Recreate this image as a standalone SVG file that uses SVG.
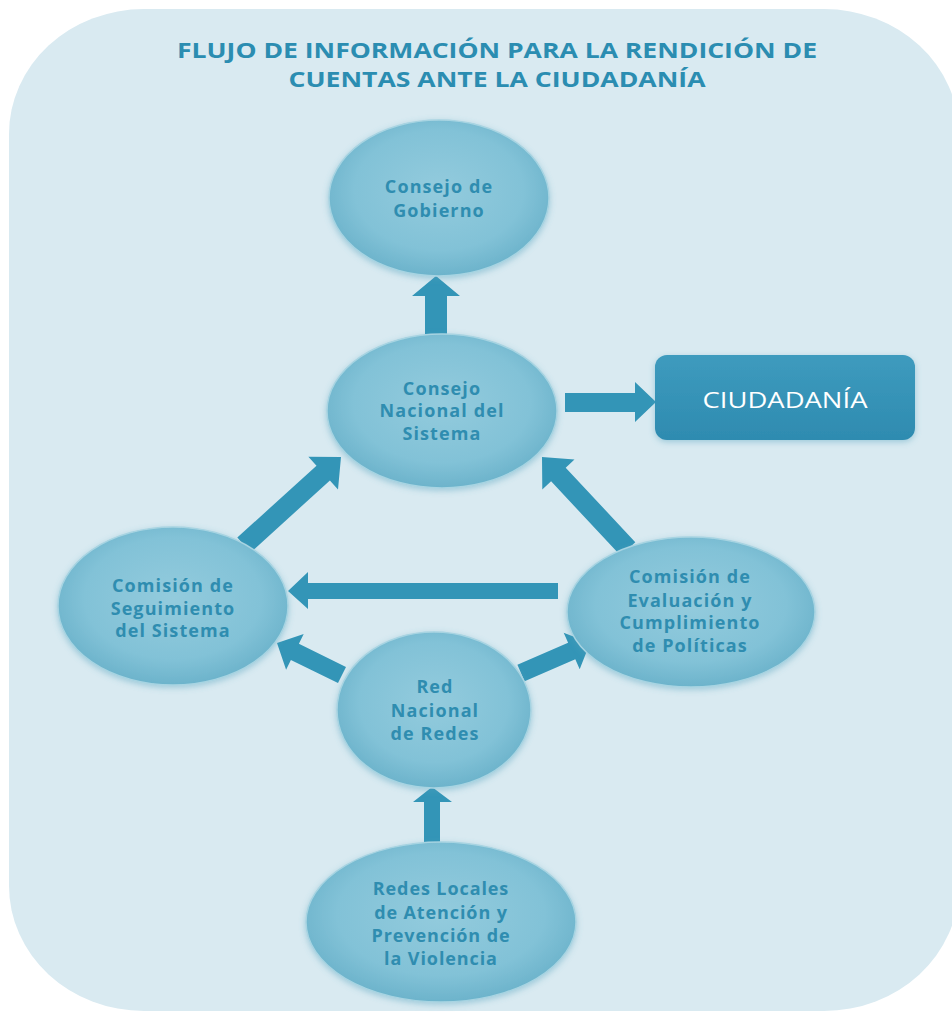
<svg xmlns="http://www.w3.org/2000/svg" width="952" height="1013" viewBox="0 0 952 1013">
<defs>
<radialGradient id="eg" cx="50%" cy="45%" r="55%">
<stop offset="0%" stop-color="#93cbdd"/>
<stop offset="70%" stop-color="#82c2d7"/>
<stop offset="100%" stop-color="#6cb3cb"/>
</radialGradient>
<linearGradient id="bg" x1="0" y1="0" x2="0" y2="1">
<stop offset="0%" stop-color="#3e9bbe"/>
<stop offset="100%" stop-color="#2e8bb0"/>
</linearGradient>
<filter id="sh" x="-10%" y="-10%" width="120%" height="125%">
<feGaussianBlur in="SourceAlpha" stdDeviation="3"/>
<feOffset dy="2" result="b"/>
<feFlood flood-color="#4f9fbb" flood-opacity="0.45"/>
<feComposite in2="b" operator="in"/>
<feMerge><feMergeNode/><feMergeNode in="SourceGraphic"/></feMerge>
</filter>
</defs>
<style>
.node ellipse{fill:url(#eg);stroke:#a7d4e2;stroke-width:1.5;filter:url(#sh)}
.node text{font-family:"Open Sans","DejaVu Sans",sans-serif;font-weight:bold;font-size:18px;letter-spacing:1.1px;fill:#2f8db0;text-anchor:middle}
#redes-locales text{letter-spacing:0.9px}
.title{font-family:"Open Sans","DejaVu Sans",sans-serif;font-weight:bold;font-size:22px;fill:#2b8db1;text-anchor:middle}
#connectors polygon{fill:#3395b7}
</style>
<rect width="952" height="1013" fill="#ffffff"/>
<rect x="9" y="9" width="950" height="1002" rx="135" ry="125" fill="#d9eaf1"/>
<text class="title" x="497" y="58" textLength="640" lengthAdjust="spacingAndGlyphs">FLUJO DE INFORMACIÓN PARA LA RENDICIÓN DE</text>
<text class="title" x="497" y="87" textLength="417" lengthAdjust="spacingAndGlyphs">CUENTAS ANTE LA CIUDADANÍA</text>
<g id="connectors">
<polygon points="425,336 425,296 412,296 436,276 460,296 447,296 447,336"/>
<polygon points="424,845 424,802 413,802 432,787 452,802 440,802 440,845"/>
<polygon points="565,393 635,393 635,382 656,402 635,422 635,412 565,412"/>
<polygon points="558,583 308,583 308,572 288,591 308,609 308,599 558,599"/>
<polygon points="250.7,552.4 329.9,480.5 338,489.4 341,457 308.4,456.8 316.5,465.7 237.3,537.6"/>
<polygon points="635.3,542.2 565.7,467.7 574.5,459.5 542,457 542.3,489.5 551.1,481.3 620.7,555.8"/>
<polygon points="346,666.9 298.9,643.7 303.7,633.9 277,643 286.1,669.7 290.9,659.9 338,683.1"/>
<polygon points="524.6,681.3 575.3,659.3 579.7,669.3 590,643 563.7,632.7 568.1,642.8 517.4,664.8"/>
</g>
<g id="consejo-gobierno" class="node">
<ellipse cx="439" cy="198" rx="110" ry="78"/>
<text x="439" y="193">Consejo de</text>
<text x="439" y="217">Gobierno</text>
</g>
<g id="consejo-nacional" class="node">
<ellipse cx="442" cy="411" rx="115" ry="77"/>
<text x="442" y="395">Consejo</text>
<text x="442" y="417">Nacional del</text>
<text x="442" y="440">Sistema</text>
</g>
<g id="ciudadania">
<rect x="655" y="355" width="260" height="85" rx="12" fill="url(#bg)" filter="url(#sh)"/>
<text x="785" y="408" font-family="'Open Sans','DejaVu Sans',sans-serif" font-size="22" fill="#ffffff" text-anchor="middle" textLength="165" lengthAdjust="spacingAndGlyphs">CIUDADANÍA</text>
</g>
<g id="comision-seguimiento" class="node">
<ellipse cx="173" cy="606" rx="115" ry="79"/>
<text x="173" y="592">Comisión de</text>
<text x="173" y="615">Seguimiento</text>
<text x="173" y="637">del Sistema</text>
</g>
<g id="comision-evaluacion" class="node">
<ellipse cx="691" cy="612" rx="124" ry="75"/>
<text x="690" y="583">Comisión de</text>
<text x="690" y="607">Evaluación y</text>
<text x="690" y="629">Cumplimiento</text>
<text x="690" y="652">de Políticas</text>
</g>
<g id="red-nacional" class="node">
<ellipse cx="434" cy="710" rx="97" ry="78"/>
<text x="435" y="693">Red</text>
<text x="435" y="717">Nacional</text>
<text x="435" y="740">de Redes</text>
</g>
<g id="redes-locales" class="node">
<ellipse cx="441" cy="922" rx="135" ry="80"/>
<text x="441" y="895">Redes Locales</text>
<text x="441" y="919">de Atención y</text>
<text x="441" y="942">Prevención de</text>
<text x="441" y="965">la Violencia</text>
</g>
</svg>
